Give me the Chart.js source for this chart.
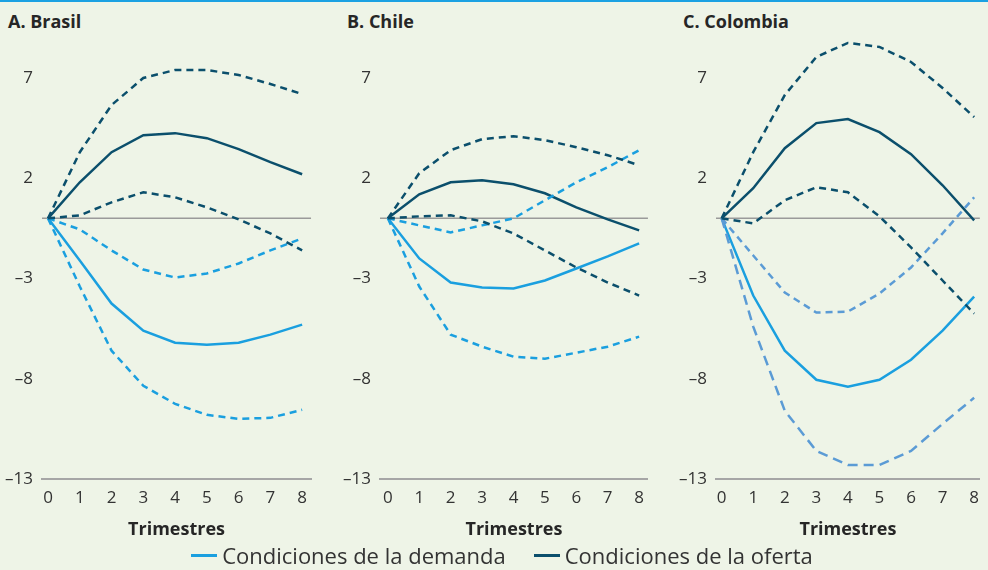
<!DOCTYPE html>
<html lang="es">
<head>
<meta charset="UTF-8">
<title>Condiciones de la demanda y de la oferta</title>
<script src="https://cdn.jsdelivr.net/npm/chart.js"></script>
<style>
  body { margin: 0; background: #eef4e7; font-family: "Open Sans", sans-serif; color: #262626; }
  #page { position: relative; width: 988px; height: 570px; overflow: hidden; }
  #topline { position: absolute; left: 0; top: 0; width: 988px; height: 2px; background: #1ba1e2; }
  .title { position: absolute; top: 9px; font-weight: 700; font-size: 18px; }
  canvas { position: absolute; }
  #legend { position: absolute; left: 8px; width: 988px; top: 540px; display: flex; justify-content: center; gap: 28px; font-size: 22px; color: #333; }
  .item { display: flex; align-items: center; }
  .swatch { width: 26px; height: 3px; margin-right: 5px; }
</style>
</head>
<body>
<div id="page">
  <div id="topline"></div>
  <div class="title" style="left:8px">A. Brasil</div>
  <div class="title" style="left:347px">B. Chile</div>
  <div class="title" style="left:683px">C. Colombia</div>
  <canvas id="brasil" width="314" height="515" style="left:2px; top:30px"></canvas>
  <canvas id="chile" width="313" height="515" style="left:340px; top:30px"></canvas>
  <canvas id="colombia" width="312" height="515" style="left:676px; top:30px"></canvas>
  <div id="legend">
    <div class="item"><span class="swatch" style="background:#1a9fdf"></span>Condiciones de la demanda</div>
    <div class="item"><span class="swatch" style="background:#0b4f6c"></span>Condiciones de la oferta</div>
  </div>
</div>

<script>
  // trimestres y ticks del eje vertical
  const quarters = [0, 1, 2, 3, 4, 5, 6, 7, 8];
  const yTicks = [-13, -8, -3, 2, 7];

  // A. Brasil
  const brasilDemanda     = [0, -2.1, -4.25, -5.6, -6.2, -6.3, -6.2, -5.8, -5.3];
  const brasilDemandaAlta = [0, -0.55, -1.6, -2.55, -2.95, -2.75, -2.25, -1.6, -1.0];
  const brasilDemandaBaja = [0, -3.4, -6.6, -8.35, -9.25, -9.8, -10.0, -9.95, -9.55];
  const brasilOferta      = [0, 1.8, 3.3, 4.15, 4.25, 4.0, 3.45, 2.8, 2.2];
  const brasilOfertaAlta  = [0, 3.3, 5.65, 7.0, 7.4, 7.4, 7.15, 6.7, 6.2];
  const brasilOfertaBaja  = [0, 0.15, 0.8, 1.3, 1.05, 0.55, -0.05, -0.75, -1.6];

  // B. Chile
  const chileDemanda     = [0, -2.0, -3.2, -3.45, -3.5, -3.1, -2.5, -1.9, -1.25];
  const chileDemandaAlta = [0, -0.35, -0.7, -0.35, 0, 0.9, 1.8, 2.55, 3.4];
  const chileDemandaBaja = [0, -3.4, -5.8, -6.4, -6.9, -7.0, -6.7, -6.4, -5.9];
  const chileOferta      = [0, 1.2, 1.8, 1.9, 1.7, 1.25, 0.55, -0.05, -0.6];
  const chileOfertaAlta  = [0, 2.25, 3.4, 3.95, 4.1, 3.9, 3.55, 3.15, 2.65];
  const chileOfertaBaja  = [0, 0.1, 0.15, -0.15, -0.75, -1.6, -2.45, -3.2, -3.85];

  // C. Colombia
  const colombiaDemanda     = [0, -3.85, -6.6, -8.05, -8.4, -8.05, -7.05, -5.6, -3.9];
  const colombiaDemandaAlta = [0, -1.85, -3.7, -4.7, -4.65, -3.75, -2.45, -0.75, 1.05];
  const colombiaDemandaBaja = [0, -5.4, -9.6, -11.6, -12.3, -12.3, -11.6, -10.25, -8.95];
  const colombiaOferta      = [0, 1.5, 3.5, 4.75, 4.95, 4.3, 3.2, 1.65, -0.1];
  const colombiaOfertaAlta  = [0, 3.3, 6.15, 8.05, 8.75, 8.55, 7.8, 6.5, 5.05];
  const colombiaOfertaBaja  = [0, -0.25, 0.9, 1.55, 1.3, 0.1, -1.45, -3.1, -4.75];

  const demandaColor = '#1a9fdf';
  const ofertaColor = '#0b4f6c';
  const fontFamily = '"Open Sans", sans-serif';

  // linea horizontal en cero
  const zeroLine = {
    id: 'zeroLine',
    beforeDatasetsDraw(chart) {
      const { ctx, chartArea, scales } = chart;
      const y = scales.y.getPixelForValue(0);
      ctx.save();
      ctx.strokeStyle = '#9a9a9a';
      ctx.lineWidth = 1.5;
      ctx.beginPath();
      ctx.moveTo(chartArea.left, y);
      ctx.lineTo(chartArea.right, y);
      ctx.stroke();
      ctx.restore();
    }
  };

  function serie(values, color, dashed, dash) {
    return {
      data: quarters.map((q, i) => ({ x: q, y: values[i] })),
      borderColor: color,
      borderWidth: 2.5,
      borderDash: dashed ? (dash || [7, 5]) : [],
      pointRadius: 0,
      tension: 0,
      fill: false,
      clip: false
    };
  }

  function makeChart(id, datasets, xMin, xMax) {
    return new Chart(document.getElementById(id), {
      type: 'line',
      data: { datasets: datasets },
      plugins: [zeroLine],
      options: {
        responsive: false,
        animation: false,
        layout: { padding: { top: 48, right: 0, bottom: 4, left: 0 } },
        plugins: { legend: { display: false }, tooltip: { enabled: false } },
        scales: {
          x: {
            type: 'linear',
            min: xMin,
            max: xMax,
            afterBuildTicks: axis => { axis.ticks = quarters.map(v => ({ value: v })); },
            grid: { display: false, drawTicks: false },
            border: { display: true, color: '#a6a6a6', width: 2 },
            ticks: { padding: 9, color: '#333', font: { family: fontFamily, size: 17 }, autoSkip: false, maxRotation: 0 },
            title: { display: true, text: 'Trimestres', color: '#262626', padding: { top: 2, bottom: 0 }, font: { family: fontFamily, size: 18, weight: 'bold' } }
          },
          y: {
            min: -13,
            max: 7,
            afterBuildTicks: axis => { axis.ticks = yTicks.map(v => ({ value: v })); },
            afterFit: axis => { axis.width = 40; },
            grid: { display: false, drawTicks: false },
            border: { display: false },
            ticks: {
              padding: 9,
              color: '#333',
              font: { family: fontFamily, size: 17 },
              callback: v => v < 0 ? '–' + Math.abs(v) : String(v)
            }
          }
        }
      }
    });
  }

  makeChart('brasil', [
    serie(brasilOfertaAlta, ofertaColor, true),
    serie(brasilOfertaBaja, ofertaColor, true),
    serie(brasilDemandaAlta, demandaColor, true),
    serie(brasilDemandaBaja, demandaColor, true),
    serie(brasilOferta, ofertaColor, false),
    serie(brasilDemanda, demandaColor, false)
  ], -0.19, 8.28);

  makeChart('chile', [
    serie(chileOfertaAlta, ofertaColor, true),
    serie(chileOfertaBaja, ofertaColor, true),
    serie(chileDemandaAlta, demandaColor, true),
    serie(chileDemandaBaja, demandaColor, true),
    serie(chileOferta, ofertaColor, false),
    serie(chileDemanda, demandaColor, false)
  ], -0.25, 8.28);

  makeChart('colombia', [
    serie(colombiaOfertaAlta, ofertaColor, true),
    serie(colombiaOfertaBaja, ofertaColor, true),
    serie(colombiaDemandaAlta, '#5b9bd5', true),
    serie(colombiaDemandaBaja, '#5b9bd5', true, [10, 6]),
    serie(colombiaOferta, ofertaColor, false),
    serie(colombiaDemanda, demandaColor, false)
  ], -0.18, 8.18);
</script>
</body>
</html>
